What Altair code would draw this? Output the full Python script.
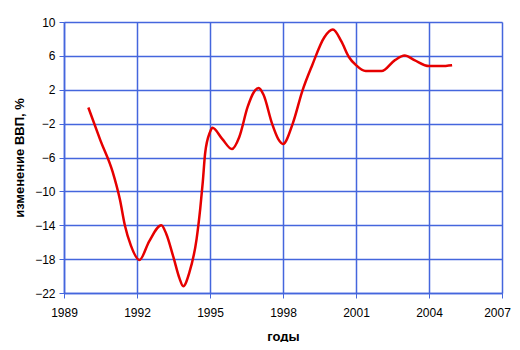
import altair as alt
import pandas as pd

years = [1990.0, 1990.5, 1991.0, 1991.3, 1991.5, 1991.75, 1992.1, 1992.5, 1993.0, 1993.2,
         1993.5, 1993.75, 1993.9, 1994.15, 1994.45, 1994.6, 1994.7, 1994.8, 1995.0, 1995.1,
         1995.5, 1995.9, 1996.2, 1996.55, 1996.8, 1997.0, 1997.2, 1997.55, 1997.8, 1998.0,
         1998.4, 1998.8, 1999.2, 1999.7, 2000.05, 2000.4, 2000.7, 2001.0, 2001.4, 2002.05,
         2002.6, 2003.0, 2003.4, 2004.0, 2004.5, 2004.95]
values = [-0.1, -4.0, -7.7, -11.0, -14.0, -16.4, -18.1, -15.9, -14.0, -15.0,
          -17.8, -20.3, -21.2, -19.6, -15.6, -12.0, -9.0, -5.5, -3.0, -2.5,
          -3.8, -5.0, -3.6, 0.0, 1.7, 2.2, 1.4, -2.0, -3.8, -4.4,
          -2.0, 1.9, 4.9, 8.2, 9.1, 7.7, 5.9, 4.9, 4.2, 4.2,
          5.5, 6.05, 5.5, 4.8, 4.8, 4.9]
x_ticks = [1989, 1992, 1995, 1998, 2001, 2004, 2007]
y_ticks = [-22, -18, -14, -10, -6, -2, 2, 6, 10]

df = pd.DataFrame({"year": years, "gdp": values})

blue = "#4466dd"
font = "Liberation Sans"

chart = alt.Chart(df).mark_line(
    color="#e60000", strokeWidth=2.5, interpolate="monotone"
).encode(
    x=alt.X("year:Q",
            scale=alt.Scale(domain=[1989, 2007], nice=False, zero=False),
            axis=alt.Axis(values=x_ticks, format="d", title="годы",
                          titleFont=font, titleFontSize=13, titleFontWeight="bold",
                          titleColor="black", titleY=47, titleBaseline="alphabetic",
                          labelFont=font, labelFontSize=12, labelColor="black",
                          labelPadding=9, tickSize=5, tickColor=blue,
                          labelOffset={"condition": {"test": "datum.value == 2007", "value": -5}, "value": 0},
                          domainColor=blue, domainWidth=1.5,
                          gridColor=blue, gridWidth=1.5, gridOpacity=1,
                          labelFlush=False)),
    y=alt.Y("gdp:Q",
            scale=alt.Scale(domain=[-22, 10], nice=False, zero=False),
            axis=alt.Axis(values=y_ticks, title="изменение ВВП, %",
                          titleFont=font, titleFontSize=13, titleFontWeight="bold",
                          titleColor="black", titleX=-45, titleBaseline="middle",
                          labelFont=font, labelFontSize=12, labelColor="black",
                          labelPadding=4, tickSize=5, tickColor=blue,
                          domainColor=blue, domainWidth=1.5,
                          gridColor=blue, gridWidth=1.5, gridOpacity=1,
                          labelFlush=False)),
).properties(
    width=438, height=271,
    autosize=alt.AutoSizeParams(type="none"),
    padding={"left": 56, "top": 14, "right": 10, "bottom": 49},
).configure_view(
    stroke=blue, strokeWidth=1.5
).configure(background="white")

chart.save("out.html", embed_options={"renderer": "svg", "actions": False})
